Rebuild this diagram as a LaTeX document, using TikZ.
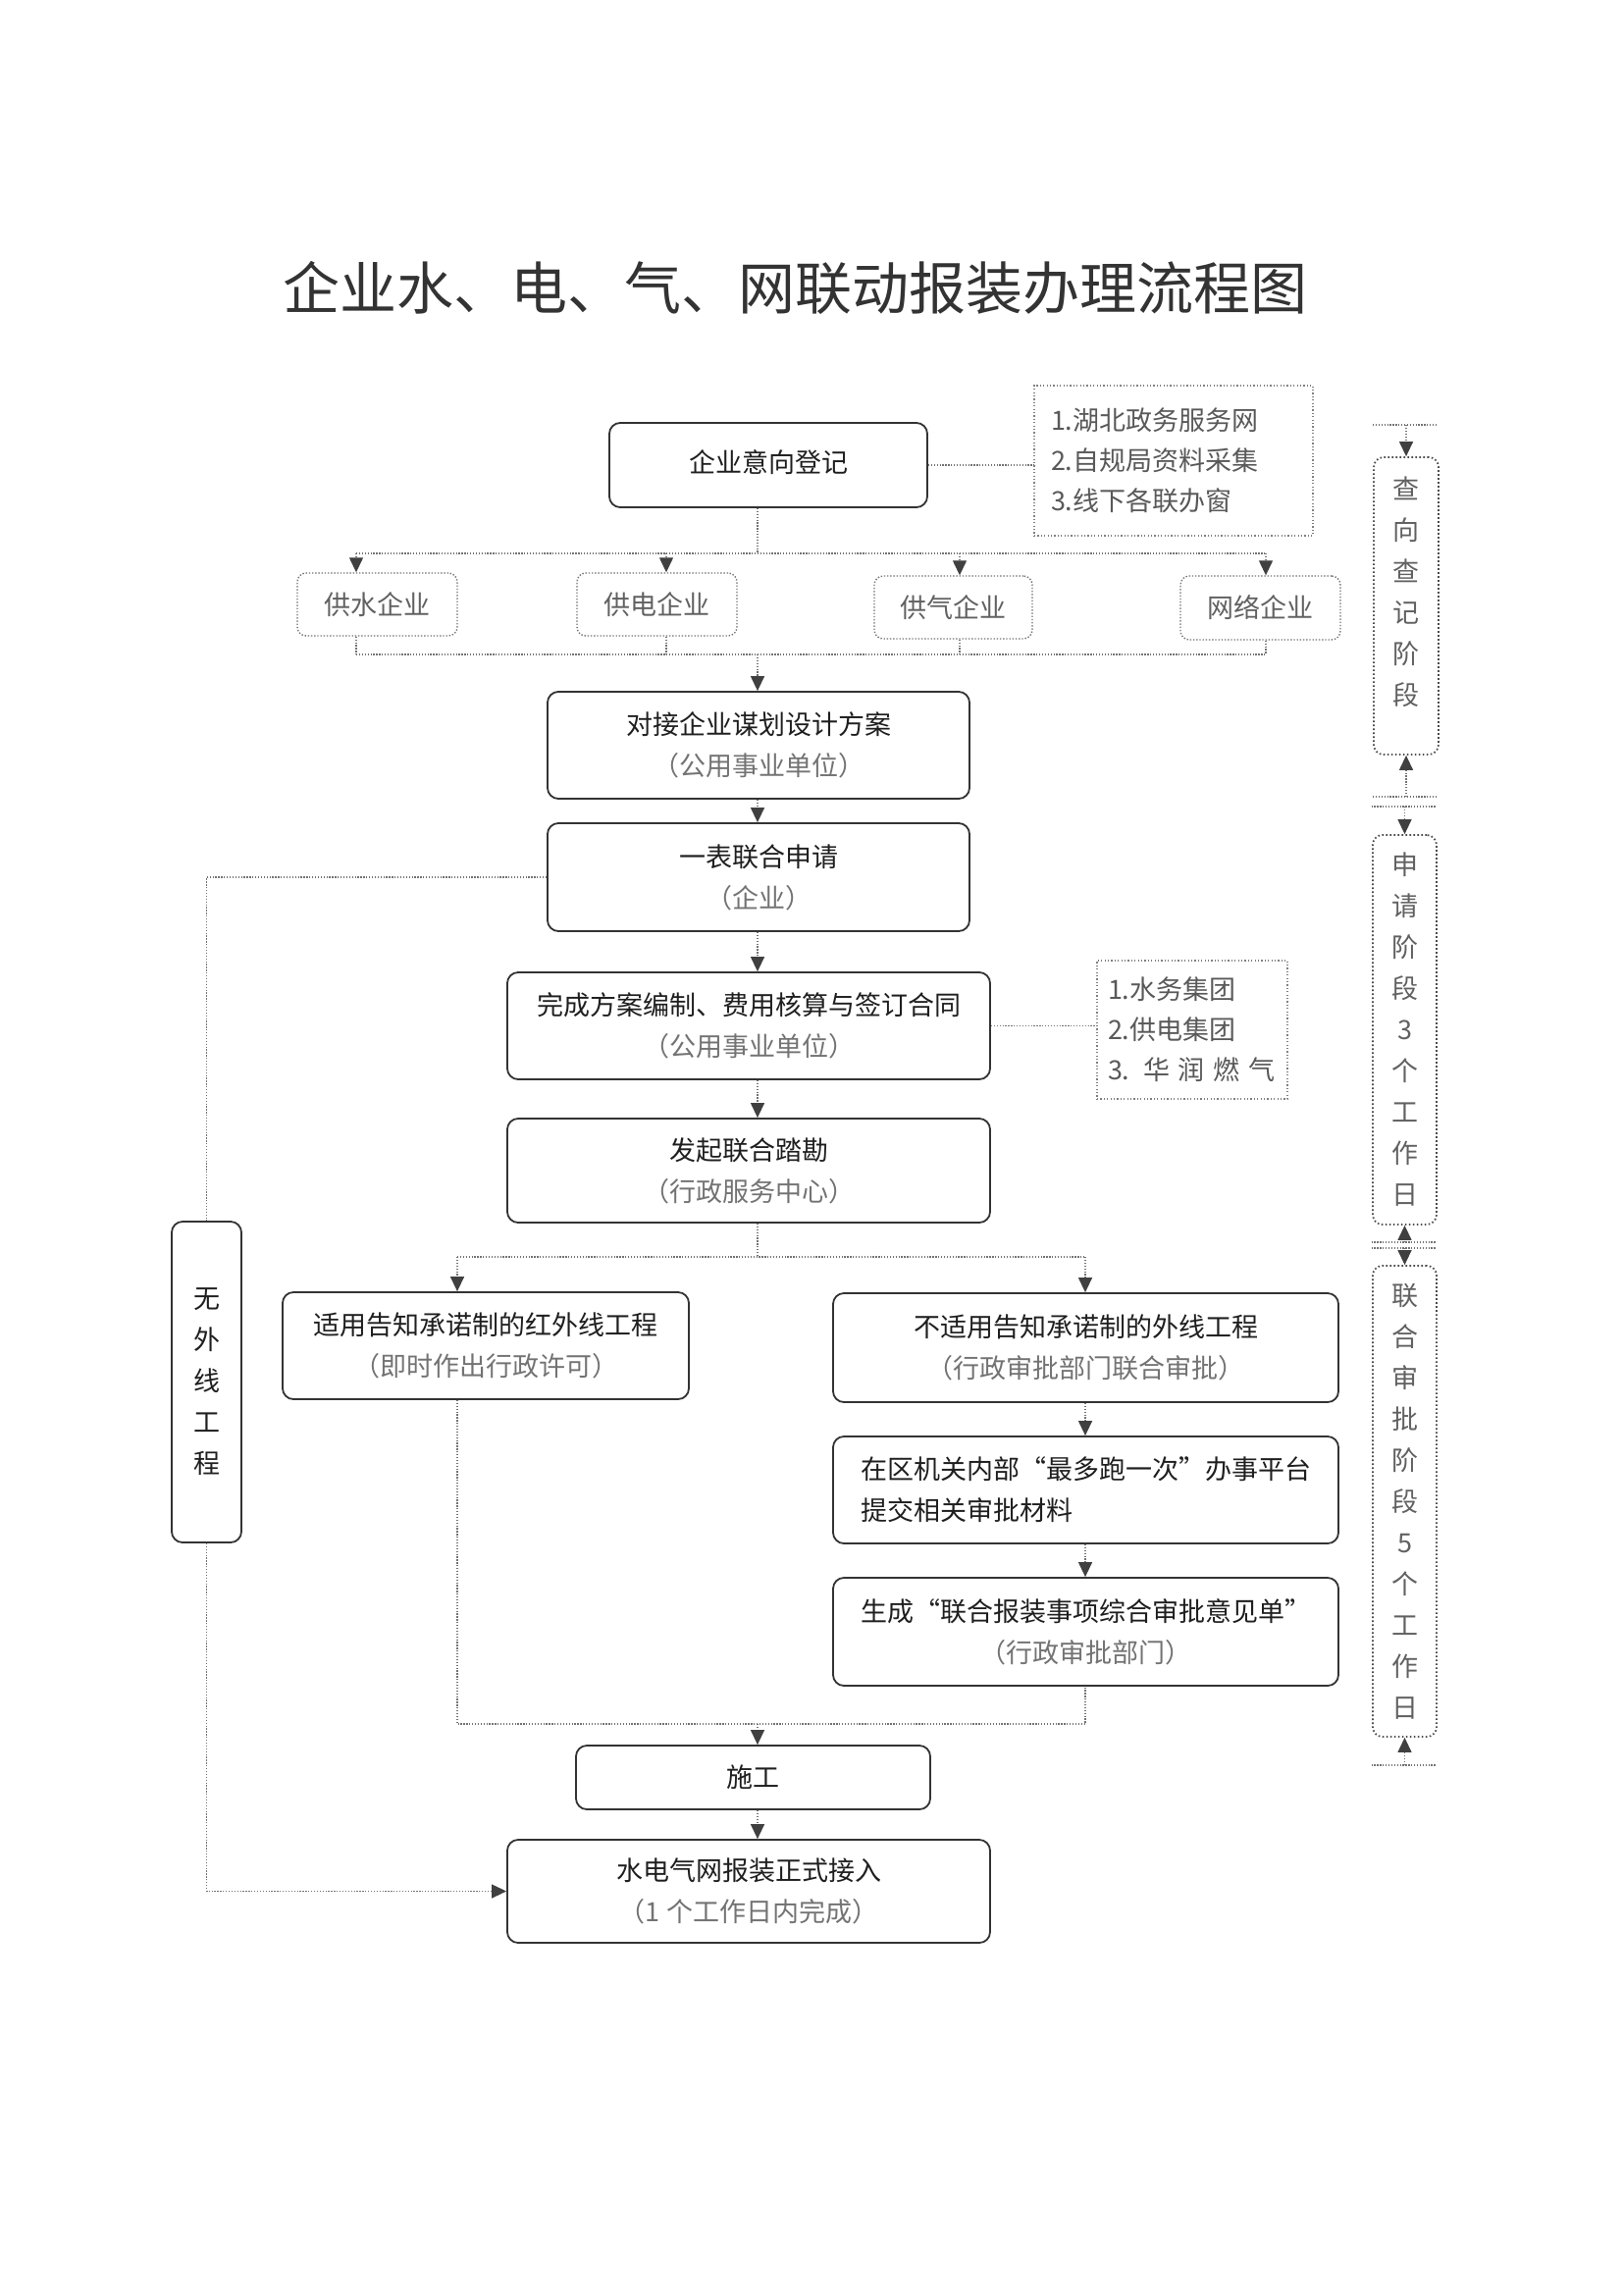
\documentclass[tikz,border=0pt]{standalone}
\usepackage{fontspec}
\setmainfont{Noto Sans CJK SC}
\newfontfamily\cjkfw[RawFeature=+fwid]{Noto Sans CJK SC}
\usetikzlibrary{arrows.meta}
\newcommand\myqL{{\cjkfw “}}
\newcommand\myqR{{\cjkfw ”}}
\newcommand\subt[1]{{\color{black!55}#1}}
\begin{document}
\begin{tikzpicture}[x=1pt,y=-1pt,
  box/.style={draw=black!80, line width=1.8pt, rounded corners=11pt, fill=white, inner sep=0pt,
    align=center, font=\fontsize{27}{42}\selectfont, text=black!88},
  dotbox/.style={draw=black!55, line width=1.4pt, dash pattern=on 1.4pt off 1.8pt, rounded corners=9pt,
    inner sep=0pt, align=center, font=\fontsize{27}{40}\selectfont, text=black!62},
  infobox/.style={draw=black!50, line width=1.2pt, dash pattern=on 1.2pt off 2.2pt, inner sep=0pt,
    align=left, font=\fontsize{27}{41}\selectfont, text=black!65},
  stagebox/.style={draw=black!70, line width=1.8pt, dash pattern=on 1.6pt off 2.4pt, rounded corners=10pt,
    inner sep=0pt, align=center, font=\fontsize{27}{42}\selectfont, text=black!62},
  stagetext/.style={inner sep=0pt, align=center, font=\fontsize{27}{42}\selectfont, text=black!62},
  conn/.style={draw=black!55, line width=1.3pt, dash pattern=on 1.3pt off 1.6pt},
  arr/.style={conn, -{Triangle[length=15pt,width=14pt,color=black!75]}}
]
\useasboundingbox (0,0) rectangle (1654,2340);

% title
\node[font=\fontsize{58}{62}\selectfont, text=black!80] (title) at (810,293) {企业水、电、气、网联动报装办理流程图};

% first row
\node[box, minimum width=324, minimum height=86] (reg) at (783,474) {\raisebox{8pt}{企业意向登记}};
\node[infobox, minimum width=284, minimum height=153, text width=250] (info1) at (1196,469.5)
  {1.湖北政务服务网\\2.自规局资料采集\\3.线下各联办窗};

% companies
\node[dotbox, minimum width=163, minimum height=64] (water) at (384.5,616) {供水企业};
\node[dotbox, minimum width=163, minimum height=64] (power) at (669.5,616) {供电企业};
\node[dotbox, minimum width=161, minimum height=64] (gas) at (971.5,619) {供气企业};
\node[dotbox, minimum width=163, minimum height=65] (net) at (1284.5,619.5) {网络企业};

% main column
\node[box, minimum width=430, minimum height=109] (dj) at (773,759.5) {对接企业谋划设计方案\\\subt{（公用事业单位）}};
\node[box, minimum width=430, minimum height=110] (yb) at (773,894) {一表联合申请\\\subt{（企业）}};
\node[box, minimum width=492, minimum height=109] (wc) at (763,1045.5) {完成方案编制、费用核算与签订合同\\\subt{（公用事业单位）}};
\node[infobox, minimum width=194, minimum height=141, text width=172] (info2) at (1215,1049.5)
  {1.水务集团\\2.供电集团\\3. 华 润 燃 气};
\node[box, minimum width=492, minimum height=106] (fq) at (763,1193) {发起联合踏勘\\\subt{（行政服务中心）}};

% branches
\node[box, minimum width=414, minimum height=109] (sy) at (495,1371.5) {适用告知承诺制的红外线工程\\\subt{（即时作出行政许可）}};
\node[box, minimum width=515, minimum height=111] (bs) at (1106.5,1373.5) {不适用告知承诺制的外线工程\\\subt{（行政审批部门联合审批）}};
\node[box, minimum width=515, minimum height=109, align=left] (zq) at (1106.5,1518.5) {在区机关内部\myqL 最多跑一次\myqR 办事平台\\提交相关审批材料};
\node[box, minimum width=515, minimum height=110] (sc) at (1106.5,1663) {生成\myqL 联合报装事项综合审批意见单\myqR\\\subt{（行政审批部门）}};

\node[box, minimum width=361, minimum height=65] (sg) at (767.5,1811.5) {施工};
\node[box, minimum width=492, minimum height=105] (jr) at (763,1927.5) {水电气网报装正式接入\\\subt{（1 个工作日内完成）}};

\node[box, minimum width=71, minimum height=327] (wx) at (210.5,1408.5) {无\\外\\线\\工\\程};

% stage boxes
\node[stagebox, minimum width=66, minimum height=303] (st1) at (1433,617.5) {};
\node[stagetext] (st1t) at (1433,603) {查\\向\\查\\记\\阶\\段};
\node[stagebox, minimum width=65, minimum height=397] (st2) at (1431.5,1049.5) {申\\请\\阶\\段\\3\\个\\工\\作\\日};
\node[stagebox, minimum width=65, minimum height=480] (st3) at (1431.5,1530) {联\\合\\审\\批\\阶\\段\\5\\个\\工\\作\\日};

% connectors: registration -> companies
\coordinate (b1L) at (363,564); \coordinate (b1P) at (679,564);
\coordinate (b1G) at (978,564); \coordinate (b1R) at (1290,564);
\coordinate (b1M) at (772,564);
\draw[conn] (reg.south -| b1M) -- (b1M);
\draw[conn] (b1L) -- (b1R);
\foreach \c/\n in {b1L/water,b1P/power,b1G/gas,b1R/net}
  \draw[arr] (\c) -- (\n.north -| \c);
\draw[conn] (reg.east) -- (info1.west |- reg.east);

\coordinate (b2L) at (363,667); \coordinate (b2P) at (679,667);
\coordinate (b2G) at (978,667); \coordinate (b2R) at (1290,667);
\coordinate (b2M) at (772,667);
\foreach \c/\n in {b2L/water,b2P/power,b2G/gas,b2R/net}
  \draw[conn] (\n.south -| \c) -- (\c);
\draw[conn] (b2L) -- (b2R);
\draw[arr] (b2M) -- (dj.north -| b2M);

\draw[arr] (dj.south -| b2M) -- (yb.north -| b2M);
\draw[arr] (yb.south -| b2M) -- (wc.north -| b2M);
\draw[conn] (wc.east) -- (info2.west |- wc.east);
\draw[arr] (wc.south -| b2M) -- (fq.north -| b2M);

\coordinate (b3M) at (772,1281); \coordinate (b3L) at (466,1281); \coordinate (b3R) at (1106,1281);
\draw[conn] (fq.south -| b3M) -- (b3M);
\draw[conn] (b3L) -- (b3R);
\draw[arr] (b3L) -- (sy.north -| b3L);
\draw[arr] (b3R) -- (bs.north -| b3R);
\draw[arr] (bs.south -| b3R) -- (zq.north -| b3R);
\draw[arr] (zq.south -| b3R) -- (sc.north -| b3R);

\coordinate (b4L) at (466,1757); \coordinate (b4R) at (1106,1757); \coordinate (b4M) at (772,1757);
\draw[conn] (sy.south -| b4L) -- (b4L) -- (b4R) -- (sc.south -| b4R);
\draw[arr] (b4M) -- (sg.north -| b4M);
\draw[arr] (sg.south -| b4M) -- (jr.north -| b4M);

% no-external-line path
\draw[conn] (yb.west) -- (yb.west -| wx.north) -- (wx.north);
\draw[arr] (wx.south) -- (wx.south |- jr.west) -- (jr.west);

% stage markers
\coordinate (s1a) at (1433,433); \coordinate (s1b) at (1433,812);
\coordinate (s2a) at (1431.5,822); \coordinate (s2b) at (1431.5,1266);
\coordinate (s3a) at (1431.5,1272); \coordinate (s3b) at (1431.5,1799);
\foreach \s in {s1a,s1b,s2a,s2b,s3a,s3b}
  \draw[conn] ([xshift=-34pt]\s) -- ([xshift=31pt]\s);
\draw[arr] (s1a) -- (st1.north);
\draw[arr] (s1b) -- (st1.south);
\draw[arr] (s2a) -- (st2.north);
\draw[arr] (s2b) -- (st2.south);
\draw[arr] (s3a) -- (st3.north);
\draw[arr] (s3b) -- (st3.south);
\end{tikzpicture}
\end{document}
